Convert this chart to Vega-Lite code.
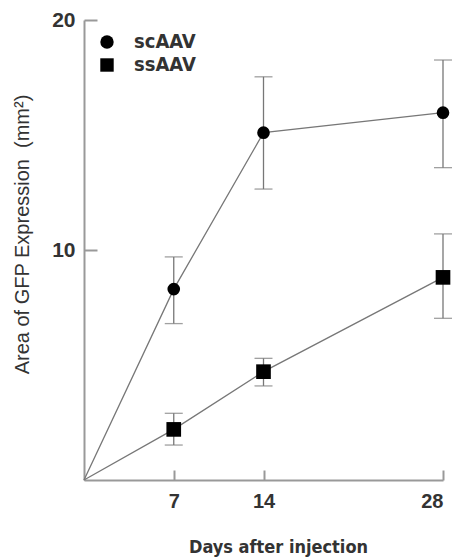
{
  "$schema": "https://vega.github.io/schema/vega-lite/v6.json",
  "width": 359,
  "height": 460,
  "autosize": "none",
  "padding": {"left": 84, "top": 20, "right": 13, "bottom": 77},
  "background": "white",
  "config": {
    "view": {"stroke": null},
    "axis": {"grid": false, "domainColor": "#999", "domainWidth": 2, "tickColor": "#999", "tickWidth": 2}
  },
  "data": {
    "values": [
      {"series": "scAAV", "day": 0, "mean": 0, "lo": 0, "hi": 0},
      {"series": "scAAV", "day": 7, "mean": 8.3, "lo": 6.8, "hi": 9.7},
      {"series": "scAAV", "day": 14, "mean": 15.1, "lo": 12.65, "hi": 17.53},
      {"series": "scAAV", "day": 28, "mean": 15.97, "lo": 13.58, "hi": 18.26},
      {"series": "ssAAV", "day": 0, "mean": 0, "lo": 0, "hi": 0},
      {"series": "ssAAV", "day": 7, "mean": 2.2, "lo": 1.52, "hi": 2.9},
      {"series": "ssAAV", "day": 14, "mean": 4.71, "lo": 4.09, "hi": 5.29},
      {"series": "ssAAV", "day": 28, "mean": 8.81, "lo": 7.03, "hi": 10.7}
    ]
  },
  "encoding": {
    "x": {
      "field": "day", "type": "quantitative",
      "scale": {"domain": [0, 28], "nice": false},
      "axis": {
        "values": [7, 14, 28], "tickSize": -10, "labelPadding": 21,
        "labelFont": "Liberation Sans", "labelFontWeight": "bold", "labelFontSize": 20, "labelColor": "#333",
        "title": "Days after injection", "titleFont": "DejaVu Sans Condensed, DejaVu Sans, sans-serif", "titleFontWeight": "bold",
        "titleFontSize": 18, "titleColor": "#333", "titleX": 194, "titleY": 67, "titleBaseline": "middle", "titleAlign": "center"
      }
    },
    "y": {
      "field": "mean", "type": "quantitative",
      "scale": {"domain": [0, 20], "nice": false},
      "axis": {
        "values": [10, 20], "tickSize": -13, "labelPadding": 22,
        "labelFont": "Liberation Sans", "labelFontWeight": "bold", "labelFontSize": 21, "labelColor": "#333",
        "title": "Area of GFP Expression\u00a0\u00a0(mm²)", "titleFont": "Liberation Sans, sans-serif", "titleFontWeight": "normal",
        "titleFontSize": 20, "titleColor": "#333", "titleX": -62, "titleY": 214, "titleBaseline": "middle", "titleAlign": "center", "titleAngle": -90
      }
    }
  },
  "layer": [
    {
      "mark": {"type": "line", "color": "#777", "strokeWidth": 1.3},
      "encoding": {"detail": {"field": "series"}}
    },
    {
      "transform": [{"filter": "datum.day > 0"}],
      "mark": {"type": "rule", "color": "#777", "strokeWidth": 1.3},
      "encoding": {"y": {"field": "lo", "type": "quantitative"}, "y2": {"field": "hi"}}
    },
    {
      "transform": [{"filter": "datum.day > 0"}, {"fold": ["lo", "hi"], "as": ["which", "val"]}],
      "mark": {"type": "tick", "orient": "horizontal", "color": "#777", "size": 18, "thickness": 1.3},
      "encoding": {"y": {"field": "val", "type": "quantitative"}}
    },
    {
      "transform": [{"filter": "datum.day > 0"}],
      "mark": {"type": "point", "filled": true, "opacity": 1},
      "encoding": {
        "shape": {
          "field": "series", "type": "nominal",
          "scale": {"domain": ["scAAV", "ssAAV"], "range": ["circle", "square"]},
          "legend": {
            "title": null, "orient": "none", "legendX": 13, "legendY": 12, "padding": 0,
            "symbolSize": 180, "symbolFillColor": "black", "symbolStrokeColor": "black", "symbolStrokeWidth": 0, "symbolOpacity": 1,
            "labelFont": "DejaVu Sans Condensed, DejaVu Sans, sans-serif", "labelFontWeight": "bold", "labelFontSize": 20, "labelColor": "#333",
            "labelOffset": 17, "rowPadding": 3
          }
        },
        "size": {"condition": {"test": "datum.series === 'ssAAV'", "value": 215}, "value": 160},
        "color": {"value": "black"}
      }
    }
  ]
}
